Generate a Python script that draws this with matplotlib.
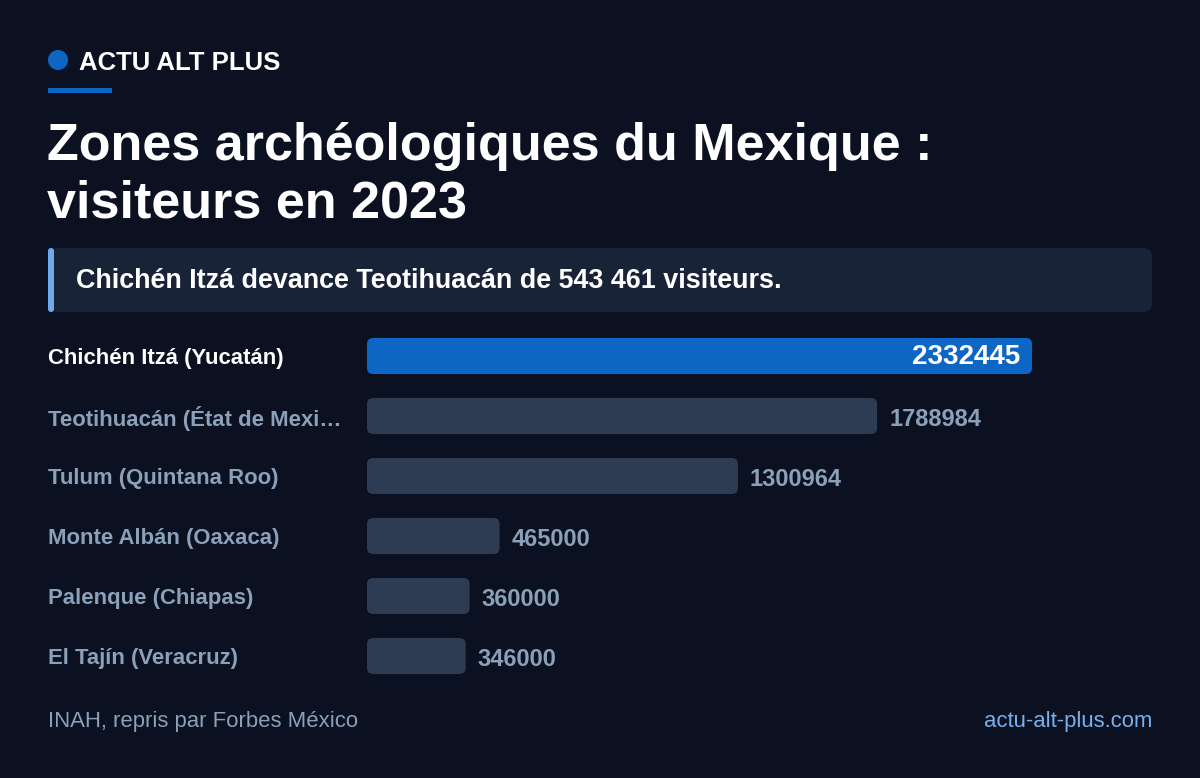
import matplotlib
matplotlib.use("Agg")
from matplotlib import pyplot as plt
from matplotlib.patches import FancyBboxPatch, Circle, Rectangle
from matplotlib.transforms import blended_transform_factory

plt.rcParams['font.family'] = ['Liberation Sans', 'DejaVu Sans']

sites = ['Chichén Itzá (Yucatán)', 'Teotihuacán (État de Mexi…', 'Tulum (Quintana Roo)',
         'Monte Albán (Oaxaca)', 'Palenque (Chiapas)', 'El Tajín (Veracruz)']
visitors = [2332445, 1788984, 1300964, 465000, 360000, 346000]

title = 'Zones archéologiques du Mexique :\nvisiteurs en 2023'
brand = 'ACTU ALT PLUS'
callout = 'Chichén Itzá devance Teotihuacán de 543 461 visiteurs.'
source = 'INAH, repris par Forbes México'
site_url = 'actu-alt-plus.com'

BG = '#0b1120'
BLUE = '#0d66c4'
GREY_BAR = '#2d3b53'
GREY_TXT = '#8ba0b9'
LIGHT_BLUE = '#78b0ec'

W, H = 1200, 778
fig = plt.figure(figsize=(W / 100, H / 100), dpi=100)
fig.patch.set_facecolor(BG)


def fx(px):
    return px / W


def fy(py):
    return 1 - py / H


# header: dot, brand, short underline
fig.patches.append(Circle((58 / 100, (H - 60) / 100), 10 / 100, transform=fig.dpi_scale_trans,
                          facecolor=BLUE, edgecolor='none'))
fig.text(fx(79), fy(63), brand, color='white', fontsize=18.5, fontweight='bold', va='center')
fig.patches.append(Rectangle((fx(48), fy(93)), 64 / W, 5 / H, transform=fig.transFigure,
                             facecolor=BLUE, edgecolor='none'))

fig.text(fx(47), fy(217), title, color='white', fontsize=37.5, fontweight='bold',
         va='baseline', linespacing=1.22)

# callout box
fig.patches.append(FancyBboxPatch((fx(48), fy(312)), 1104 / W, 64 / H,
                                  boxstyle='round,pad=0,rounding_size=0.007',
                                  mutation_aspect=W / H,
                                  transform=fig.transFigure, facecolor='#192338', edgecolor='none'))
fig.patches.append(FancyBboxPatch((fx(48), fy(312)), 6 / W, 64 / H,
                                  boxstyle='round,pad=0,rounding_size=0.0025',
                                  mutation_aspect=W / H,
                                  transform=fig.transFigure, facecolor='#6fa9ea', edgecolor='none'))
fig.text(fx(76), fy(278), callout, color='white', fontsize=19.4, fontweight='bold',
         va='center_baseline')

# bars
ax_left, ax_right, ax_top, ax_bot = 367, 1152, 326, 686
ax = fig.add_axes([fx(ax_left), fy(ax_bot), (ax_right - ax_left) / W, (ax_bot - ax_top) / H])
ax.set_facecolor('none')
xmax = visitors[0] * (ax_right - ax_left) / (1032 - ax_left)
ax.set_xlim(0, xmax)
ax.set_ylim(len(sites) - 0.5, -0.5)
ax.axis('off')

xpp = xmax / (ax_right - ax_left)
ypp = len(sites) / (ax_bot - ax_top)
bar_h = 36 * ypp
label_tr = blended_transform_factory(fig.transFigure, ax.transData)
for i, (name, v) in enumerate(zip(sites, visitors)):
    color = BLUE if i == 0 else GREY_BAR
    ax.add_patch(FancyBboxPatch((0, i - bar_h / 2), v, bar_h,
                                boxstyle='round,pad=0,rounding_size=%f' % (6 * xpp),
                                mutation_aspect=ypp / xpp,
                                facecolor=color, edgecolor='none'))
    if i == 0:
        ax.text(v - 12 * xpp, i + 0.02, str(v), color='white', fontsize=20,
                fontweight='bold', ha='right', va='center')
    else:
        ax.text(v + 12 * xpp, i + 0.05, str(v), color=GREY_TXT, fontsize=17,
                fontweight='bold', ha='left', va='center')
    ax.text(fx(48), i, name, transform=label_tr,
            color='white' if i == 0 else GREY_TXT, fontsize=15.9, fontweight='bold',
            ha='left', va='center_baseline')

# footer
fig.text(fx(48), fy(719), source, color=GREY_TXT, fontsize=15.9, va='center_baseline')
fig.text(fx(1152), fy(719), site_url, color=LIGHT_BLUE, fontsize=15.9,
         va='center_baseline', ha='right')

fig.savefig('out.png', dpi=100, facecolor=BG)
